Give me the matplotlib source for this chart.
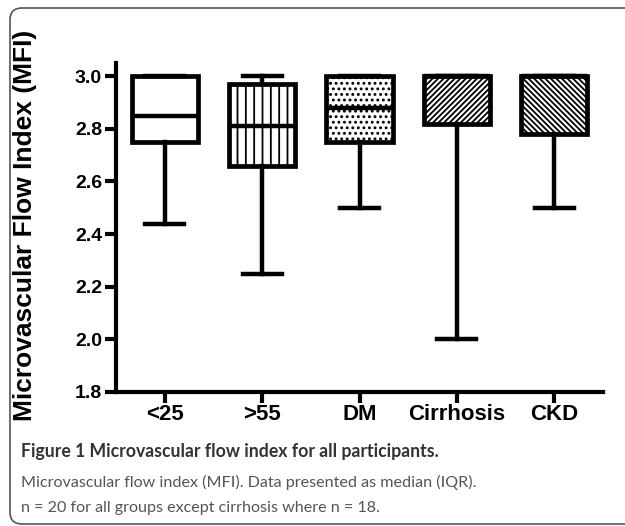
import matplotlib.pyplot as plt
from matplotlib.patches import FancyBboxPatch
from matplotlib.transforms import IdentityTransform

groups = ['<25', '>55', 'DM', 'Cirrhosis', 'CKD']
whisker_low = [2.44, 2.25, 2.50, 2.00, 2.50]
q1 = [2.75, 2.66, 2.75, 2.82, 2.78]
medians = [2.85, 2.81, 2.88, 3.00, 3.00]
q3 = [3.00, 2.97, 3.00, 3.00, 3.00]
whisker_high = [3.00, 3.00, 3.00, 3.00, 3.00]
hatches = ['', '||', '...', '//////', '\\\\\\\\\\\\']

plt.rcParams['hatch.linewidth'] = 1.3

fig = plt.figure(figsize=(6.25, 5.26), dpi=100)
ax = fig.add_axes([0.1856, 0.2548, 0.7792, 0.6255])

stats = []
for i in range(len(groups)):
    stats.append({'whislo': whisker_low[i], 'q1': q1[i], 'med': medians[i],
                  'q3': q3[i], 'whishi': whisker_high[i], 'label': groups[i]})

pos = list(range(1, len(groups) + 1))
bp = ax.bxp(stats, positions=pos, widths=0.68, capwidths=0.4,
            showfliers=False, patch_artist=True,
            boxprops=dict(linewidth=3.4, edgecolor='black', facecolor='white'),
            medianprops=dict(linewidth=3.2, color='black'),
            whiskerprops=dict(linewidth=3.2, color='black'),
            capprops=dict(linewidth=3.2, color='black'))
for box, h in zip(bp['boxes'], hatches):
    box.set_hatch(h)

ax.set_xlim(0.5, 5.5)
ax.set_ylim(1.8, 3.05)
ax.set_yticks([1.8, 2.0, 2.2, 2.4, 2.6, 2.8, 3.0])
ax.set_yticklabels(['1.8', '2.0', '2.2', '2.4', '2.6', '2.8', '3.0'],
                   fontfamily='Liberation Sans', fontweight='bold', fontsize=14)
ax.set_xticks(pos)
ax.set_xticklabels(groups, fontfamily='Liberation Sans', fontweight='bold', fontsize=16)
ax.tick_params(axis='y', length=8, width=3, pad=2)
ax.tick_params(axis='x', length=8, width=3, pad=1)
for s in ['top', 'right']:
    ax.spines[s].set_visible(False)
for s in ['left', 'bottom']:
    ax.spines[s].set_linewidth(3)

fig.text(25 / 625, 1 - 225 / 526, 'Microvascular Flow Index (MFI)', rotation=90,
         ha='center', va='center', fontfamily='Liberation Sans',
         fontweight='bold', fontsize=19)

# rounded frame around the figure panel
frame = FancyBboxPatch((10, 2), 640, 516, boxstyle='round,pad=0,rounding_size=12',
                       transform=IdentityTransform(), facecolor='none',
                       edgecolor='#555555', linewidth=1.2)
fig.patches.append(frame)

fig.text(21 / 625, 1 - 452 / 526, 'Figure 1 Microvascular flow index for all participants.',
         ha='left', va='center', fontfamily='Lato', fontweight='bold',
         fontsize=12.7, color='#333333')
fig.text(21 / 625, 1 - 482 / 526, 'Microvascular flow index (MFI). Data presented as median (IQR).',
         ha='left', va='center', fontfamily='Lato', fontsize=11.6, color='#555555')
fig.text(21 / 625, 1 - 508 / 526, 'n = 20 for all groups except cirrhosis where n = 18.',
         ha='left', va='center', fontfamily='Lato', fontsize=11.6, color='#555555')

fig.savefig('out.png', dpi=100)
